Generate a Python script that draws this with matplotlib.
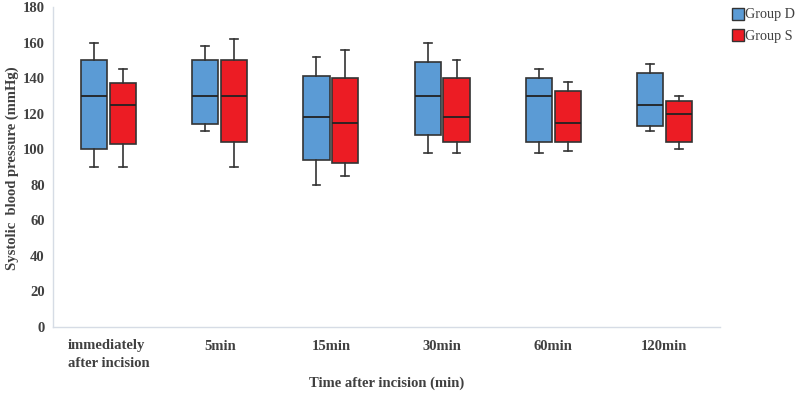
import matplotlib
matplotlib.use("Agg")
import matplotlib.pyplot as plt
from matplotlib.lines import Line2D

categories = ["immediately\nafter incision", "5min", "15min", "30min", "60min", "120min"]
groups = ["Group D", "Group S"]

# whisker low, Q1, median, Q3, whisker high
d_low = [90, 110, 80, 98, 98, 110]
d_q1 = [100, 114, 94, 108, 104, 113]
d_med = [130, 130, 118, 130, 130, 125]
d_q3 = [150, 150, 141, 149, 140, 143]
d_high = [160, 158, 152, 160, 145, 148]

s_low = [90, 90, 85, 98, 99, 100]
s_q1 = [103, 104, 92, 104, 104, 104]
s_med = [125, 130, 115, 118, 115, 120]
s_q3 = [137, 150, 140, 140, 133, 127]
s_high = [145, 162, 156, 150, 138, 130]

colors = ["#5b9bd5", "#ec1c24"]
edge = "#333333"
text_c = "#404040"

plt.rcParams['font.family'] = ['Liberation Serif', 'DejaVu Serif']

fig = plt.figure(figsize=(8, 3.95), dpi=100)
ax = fig.add_axes([53/800, 1-327/395, (720-53)/800, 320/395])

def stats(lo, q1, med, q3, hi):
    return [dict(whislo=a, q1=b, med=c, q3=d, whishi=e, fliers=[])
            for a, b, c, d, e in zip(lo, q1, med, q3, hi)]

xs = list(range(len(categories)))
sets = [stats(d_low, d_q1, d_med, d_q3, d_high), stats(s_low, s_q1, s_med, s_q3, s_high)]
offsets = [-0.13, 0.13]
for st, off, col in zip(sets, offsets, colors):
    ax.bxp(st, positions=[x + off for x in xs], widths=0.235, patch_artist=True,
           showfliers=False, capwidths=0.07,
           boxprops=dict(facecolor=col, edgecolor=edge, linewidth=1.2),
           medianprops=dict(color="#222222", linewidth=1.3),
           whiskerprops=dict(color=edge, linewidth=1.2),
           capprops=dict(color=edge, linewidth=1.2), manage_ticks=False)

ax.set_xlim(-0.5, 5.5)
ax.set_ylim(0, 180)
ax.set_yticks(range(0, 181, 20))
ax.set_xticks(xs)
ax.set_xticklabels(categories, multialignment='left', linespacing=1.45)
for lab in ax.get_xticklabels() + ax.get_yticklabels():
    lab.set_fontweight('bold')
    lab.set_color(text_c)
    lab.set_fontsize(10.5)
ax.tick_params(axis='x', length=0, pad=9)
ax.tick_params(axis='y', length=0, pad=6)
for s in ['top', 'right']:
    ax.spines[s].set_visible(False)
for s in ['left', 'bottom']:
    ax.spines[s].set_color("#d6dce5")
    ax.spines[s].set_linewidth(1.0)

ax.set_xlabel("Time after incision (min)", fontsize=10.5, fontweight='bold', color=text_c, labelpad=5)
ax.set_ylabel("Systolic  blood pressure (mmHg)", fontsize=10.5, fontweight='bold', color=text_c)
ax.yaxis.set_label_coords(-0.051, 0.495)

handles = [Line2D([0], [0], marker='s', linestyle='none', markersize=8,
                  markerfacecolor=c, markeredgecolor=edge, markeredgewidth=1.0) for c in colors]
fig.legend(handles, groups, loc='upper left', bbox_to_anchor=(722/800, 1.0), frameon=False,
           fontsize=10.2, labelcolor=text_c, handletextpad=0.05, labelspacing=0.6,
           handlelength=1.0, borderaxespad=0.2)

fig.savefig("out.png", dpi=100)
